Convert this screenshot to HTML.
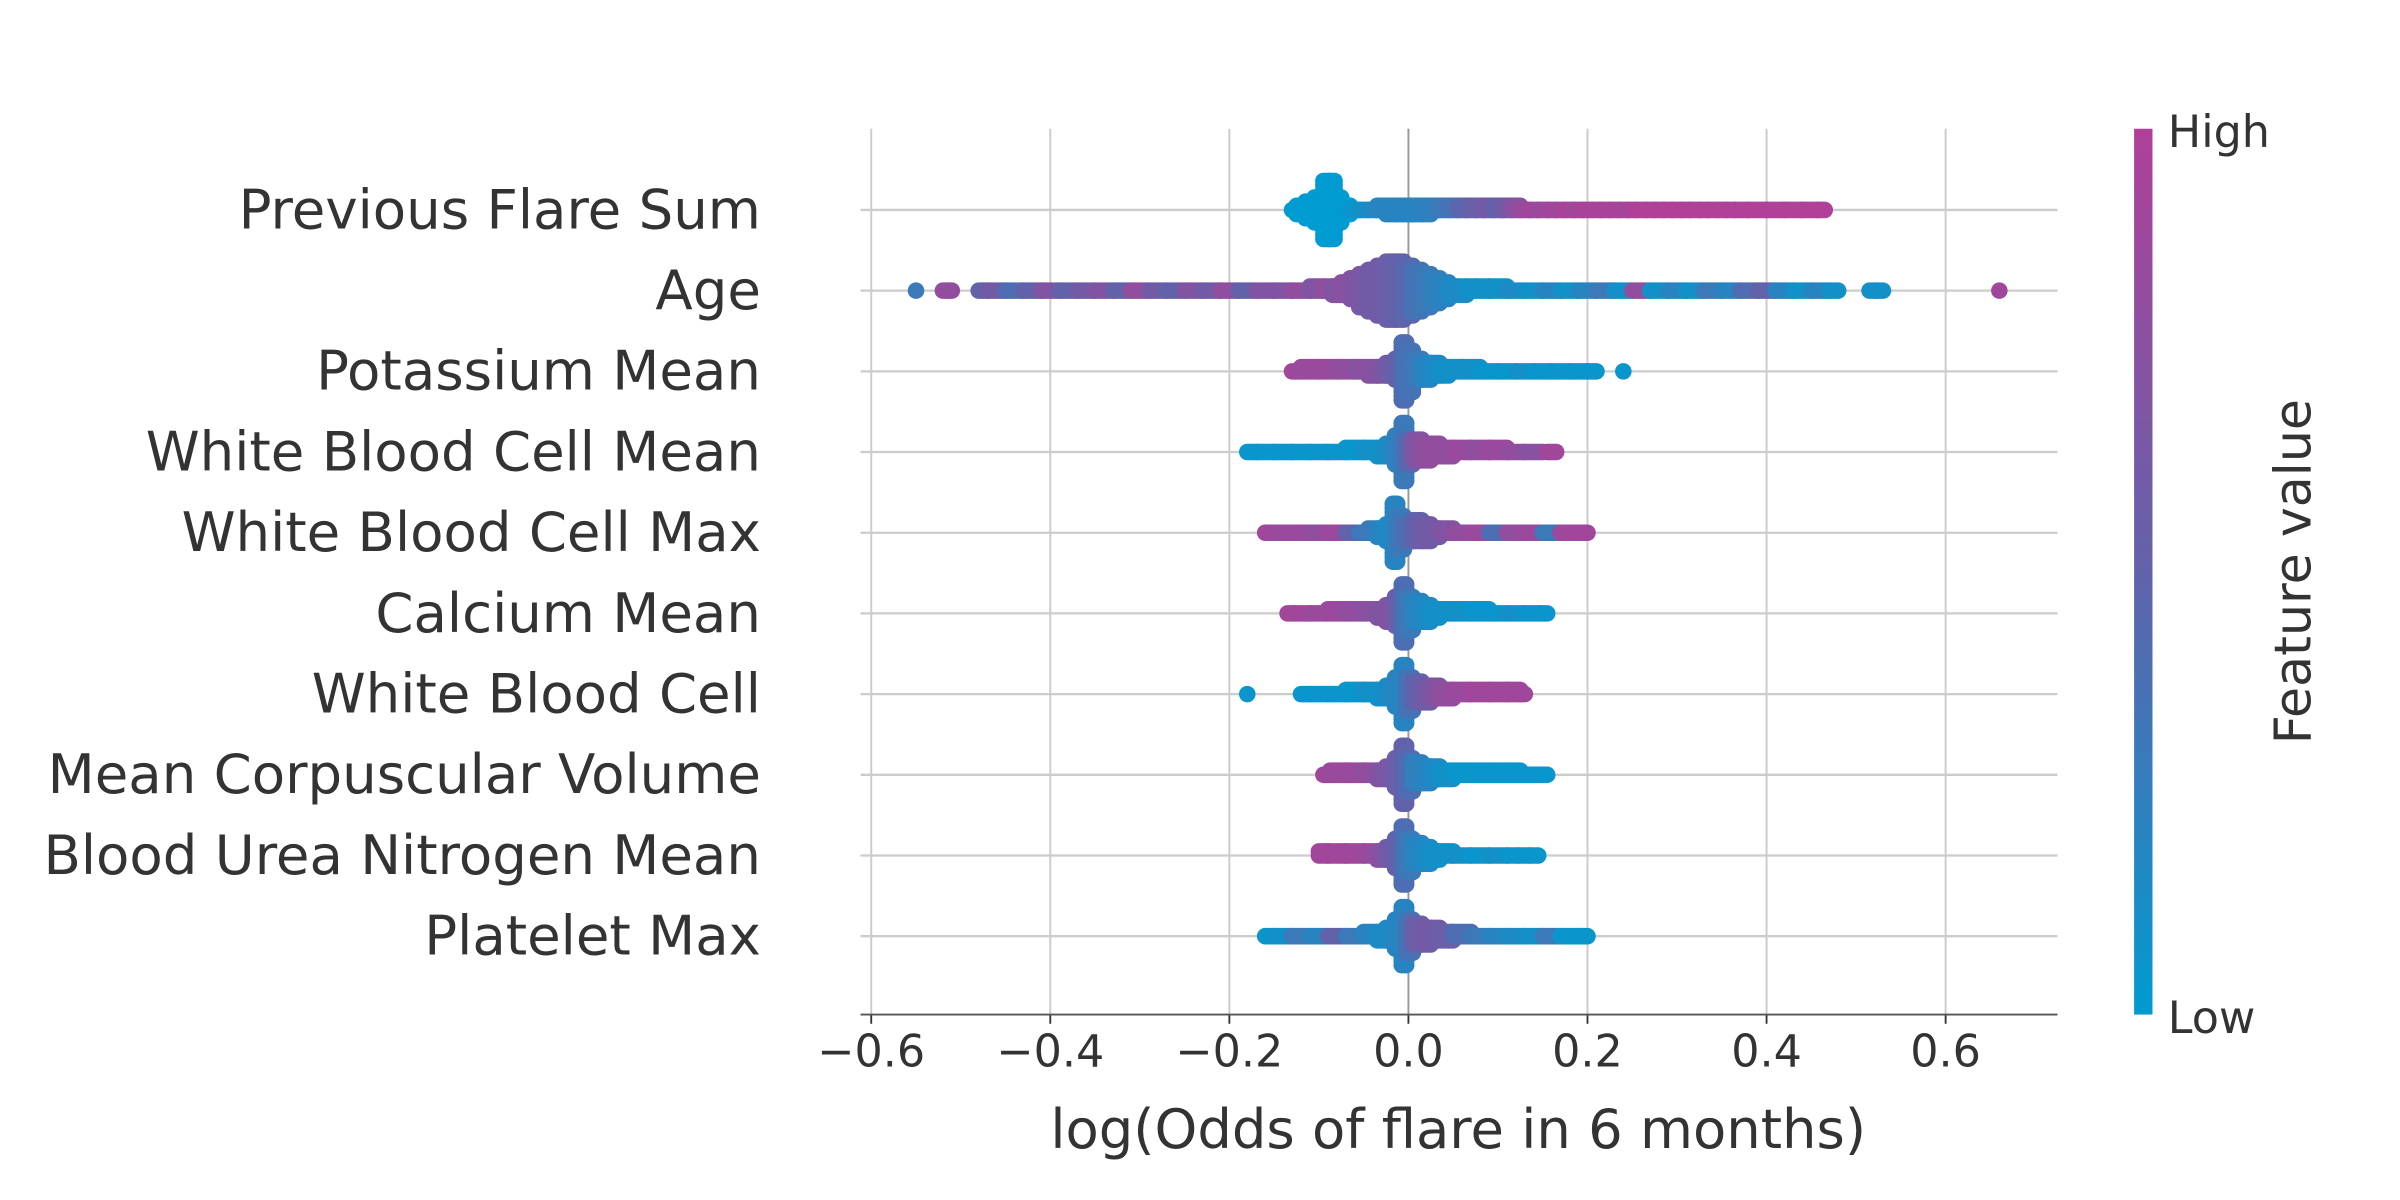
<!DOCTYPE html>
<html><head><meta charset="utf-8"><style>
html,body{margin:0;padding:0;background:#fff;}
svg{display:block;}
text{font-family:"DejaVu Sans","Liberation Sans",sans-serif;fill:#333;}
</style></head><body>
<svg id="chart" width="2400" height="1200" viewBox="0.5 -1 1566 783" preserveAspectRatio="none" xmlns="http://www.w3.org/2000/svg">
<defs><linearGradient id="cbar" x1="0" y1="1" x2="0" y2="0">
<stop offset="0" stop-color="rgb(0,155,208)"/><stop offset="0.5" stop-color="rgb(98,98,170)"/><stop offset="1" stop-color="rgb(176,64,152)"/></linearGradient></defs>
<g id="grid"></g>
<g id="dots"></g>
<g id="axis"></g>
<rect x="1393" y="83" width="12" height="578" fill="url(#cbar)"/>
<text x="1415" y="95" font-size="29">High</text>
<text x="1415" y="673" font-size="29">Low</text>
<text transform="translate(1508,372) rotate(-90)" text-anchor="middle" font-size="33">Feature value</text>
<text x="952" y="748" text-anchor="middle" font-size="35.5">log(Odds of flare in 6 months)</text>
</svg>
<script>
const features = ["Previous Flare Sum","Age","Potassium Mean","White Blood Cell Mean","White Blood Cell Max","Calcium Mean","White Blood Cell","Mean Corpuscular Volume","Blood Urea Nitrogen Mean","Platelet Max"];
const tickValues = [-0.6,-0.4,-0.2,0.0,0.2,0.4,0.6];
const tickLabels = ["\u22120.6","\u22120.4","\u22120.2","0.0","0.2","0.4","0.6"];

const xs0 = [-0.13,-0.12,-0.11,-0.10,-0.09,-0.085,-0.08,-0.07,-0.06,-0.05,-0.04,-0.03,-0.02,-0.01,0,0.01,0.02,0.03,0.04,0.05,0.06,0.07,0.08,0.09,0.10,0.11,0.12,0.13,0.14,0.15,0.16,0.17,0.18,0.19,0.20,0.21,0.22,0.23,0.24,0.25,0.26,0.27,0.28,0.29,0.30,0.31,0.32,0.33,0.34,0.35,0.36,0.37,0.39,0.41,0.43,0.45,0.465];
const ns0 = [1,3,5,7,15,15,7,3,1,1,1,2,3,3,3,3,3,2,2,2,2,2,2,2,2,2,2,1,1,1,1,1,1,1,1,1,1,1,1,1,1,1,1,1,1,1,1,1,1,1,1,1,1,1,1,1,1];
const cs0 = [0,0,0,0,0,0,0,0,0.05,0.1,0.15,0.2,0.2,0.2,0.2,0.2,0.22,0.25,0.3,0.35,0.45,0.5,0.55,0.6,0.5,0.6,0.75,0.85,0.9,0.85,0.9,0.9,0.95,0.9,0.95,0.95,0.95,0.95,0.95,0.95,1,1,1,1,1,1,1,1,1,1,1,1,1,1,1,1,1];

const xs1 = [-0.55,-0.52,-0.51,-0.48,-0.46,-0.44,-0.42,-0.40,-0.38,-0.36,-0.34,-0.32,-0.30,-0.28,-0.26,-0.24,-0.22,-0.20,-0.18,-0.16,-0.14,-0.12,-0.10,-0.09,-0.08,-0.07,-0.06,-0.05,-0.04,-0.03,-0.02,-0.01,0,0.01,0.02,0.03,0.04,0.05,0.06,0.07,0.08,0.10,0.12,0.14,0.16,0.18,0.20,0.22,0.24,0.26,0.28,0.30,0.32,0.34,0.36,0.38,0.40,0.42,0.44,0.46,0.48,0.515,0.53,0.66];
const ns1 = [1,1,1,1,1,1,1,1,1,1,1,1,1,1,1,1,1,1,1,1,1,1,2,2,3,4,6,9,11,13,15,15,13,11,9,7,5,3,3,2,2,2,1,1,1,1,1,1,1,1,1,1,1,1,1,1,1,1,1,1,1,1,1,1];
const cs1 = [0.3,0.8,0.8,0.5,0.6,0.4,0.5,0.7,0.5,0.6,0.7,0.5,0.8,0.6,0.5,0.7,0.6,0.8,0.5,0.7,0.7,0.8,0.7,0.8,0.7,0.75,0.7,0.65,0.6,0.6,0.55,0.5,0.45,0.35,0.3,0.25,0.2,0.15,0.15,0.1,0.1,0.1,0.15,0.1,0.2,0.1,0.2,0.3,0.1,0.8,0.1,0.2,0.1,0.3,0.2,0.4,0.5,0.2,0.1,0.2,0.1,0.1,0.1,0.9];

const xs2 = [-0.13,-0.11,-0.09,-0.07,-0.05,-0.04,-0.03,-0.02,-0.01,-0.005,0.0,0.01,0.02,0.03,0.04,0.05,0.07,0.09,0.11,0.13,0.15,0.17,0.19,0.21,0.24];
const ns2 = [1,2,2,2,2,3,3,4,6,15,11,6,5,4,3,2,2,1,1,1,1,1,1,1,1];
const cs2 = [0.9,0.85,0.85,0.8,0.75,0.75,0.7,0.6,0.5,0.4,0.35,0.3,0.2,0.15,0.1,0.1,0.1,0.05,0.05,0.1,0.05,0.05,0.05,0.05,0.05];

const xs3 = [-0.18,-0.16,-0.14,-0.12,-0.10,-0.08,-0.06,-0.04,-0.03,-0.02,-0.01,-0.005,0.0,0.01,0.02,0.03,0.04,0.06,0.08,0.10,0.12,0.14,0.165];
const ns3 = [1,1,1,1,1,1,2,2,3,4,8,15,7,6,5,4,3,2,2,2,1,1,1];
const cs3 = [0.05,0.05,0.05,0.05,0.05,0.05,0.05,0.1,0.1,0.15,0.25,0.3,0.45,0.7,0.8,0.8,0.8,0.85,0.8,0.85,0.8,0.75,0.9];

const xs4 = [-0.16,-0.14,-0.12,-0.10,-0.08,-0.06,-0.05,-0.04,-0.03,-0.02,-0.015,-0.01,0.0,0.01,0.02,0.03,0.04,0.06,0.08,0.10,0.12,0.14,0.16,0.18,0.20];
const ns4 = [1,1,1,1,1,1,1,2,3,5,15,9,5,6,5,3,2,1,1,1,1,1,1,1,1];
const cs4 = [0.9,0.85,0.85,0.8,0.85,0.5,0.3,0.3,0.2,0.15,0.2,0.3,0.4,0.5,0.6,0.6,0.7,0.8,0.85,0.4,0.8,0.85,0.3,0.9,0.9];

const xs5 = [-0.135,-0.12,-0.10,-0.08,-0.06,-0.04,-0.03,-0.02,-0.01,-0.005,0.0,0.01,0.02,0.03,0.04,0.06,0.08,0.10,0.12,0.14,0.155];
const ns5 = [1,1,1,2,2,2,3,5,8,15,9,6,5,3,2,2,2,1,1,1,1];
const cs5 = [0.9,0.9,0.85,0.85,0.8,0.75,0.7,0.7,0.55,0.4,0.3,0.2,0.15,0.1,0.1,0.1,0.05,0.05,0.1,0.05,0.05];

const xs6 = [-0.18,-0.12,-0.10,-0.08,-0.06,-0.04,-0.03,-0.02,-0.01,-0.005,0.0,0.01,0.02,0.03,0.04,0.06,0.08,0.10,0.12,0.13];
const ns6 = [1,1,1,1,2,2,3,4,8,15,9,6,5,4,3,2,2,2,2,1];
const cs6 = [0.05,0.05,0.05,0.05,0.05,0.1,0.1,0.15,0.2,0.2,0.35,0.5,0.6,0.7,0.8,0.85,0.9,0.9,0.9,0.9];

const xs7 = [-0.095,-0.08,-0.06,-0.04,-0.03,-0.02,-0.01,-0.005,0.0,0.01,0.02,0.03,0.04,0.06,0.08,0.10,0.12,0.13,0.15,0.155];
const ns7 = [1,2,2,2,3,4,8,15,9,6,5,4,3,2,2,2,2,1,1,1];
const cs7 = [0.9,0.85,0.85,0.8,0.7,0.65,0.55,0.5,0.4,0.25,0.2,0.15,0.1,0.05,0.05,0.05,0.05,0.05,0.05,0.05];

const xs8 = [-0.10,-0.08,-0.06,-0.04,-0.03,-0.02,-0.01,-0.005,0.0,0.01,0.02,0.03,0.04,0.06,0.08,0.10,0.12,0.125,0.145];
const ns8 = [2,2,2,2,3,4,8,15,9,6,5,3,2,1,1,1,1,1,1];
const cs8 = [0.9,0.9,0.9,0.85,0.75,0.6,0.5,0.4,0.3,0.2,0.15,0.1,0.1,0.1,0.05,0.1,0.05,0.05,0.05];

const xs9 = [-0.16,-0.14,-0.12,-0.10,-0.08,-0.06,-0.04,-0.03,-0.02,-0.01,-0.005,0.0,0.01,0.02,0.03,0.04,0.06,0.08,0.10,0.12,0.14,0.16,0.18,0.20];
const ns9 = [1,1,1,1,1,1,2,3,4,8,15,9,6,5,4,3,2,1,1,1,1,1,1,1];
const cs9 = [0.05,0.1,0.3,0.2,0.5,0.3,0.2,0.15,0.15,0.2,0.2,0.35,0.55,0.6,0.6,0.55,0.4,0.3,0.2,0.15,0.1,0.3,0.05,0.05];

const allX = [xs0,xs1,xs2,xs3,xs4,xs5,xs6,xs7,xs8,xs9];
const allN = [ns0,ns1,ns2,ns3,ns4,ns5,ns6,ns7,ns8,ns9];
const allC = [cs0,cs1,cs2,cs3,cs4,cs5,cs6,cs7,cs8,cs9];

const NS = "http://www.w3.org/2000/svg";
const X0 = 919.5, XS = 584.2;
function xScale(v){ return X0 + v*XS; }
const ROW0 = 136, ROWH = 52.65;
function yRow(i){ return ROW0 + i*ROWH; }
function colorOf(t){
  const lo=[0,155,208], mid=[98,98,170], hi=[176,64,152];
  let a,b,u; if(t<0.5){a=lo;b=mid;u=t/0.5;} else {a=mid;b=hi;u=(t-0.5)/0.5;}
  return "rgb("+a.map((c,k)=>Math.round(c+(b[k]-c)*u)).join(",")+")";
}
function mk(tag, attrs, parent){
  const e=document.createElementNS(NS,tag);
  for(const k in attrs) e.setAttribute(k,attrs[k]);
  parent.appendChild(e); return e;
}
const grid=document.getElementById("grid"), dots=document.getElementById("dots"), axis=document.getElementById("axis"), svg=document.getElementById("chart");

tickValues.forEach((v,i)=>{
  const g=mk("line",{x1:xScale(v),x2:xScale(v),y1:83,y2:661,stroke:"#cccccc","stroke-width":1.3},grid);
  
  
  const t=mk("line",{x1:xScale(v),x2:xScale(v),y1:661,y2:667,stroke:"#333","stroke-width":1.2},axis);
  
  
  const l=mk("text",{x:xScale(v),y:695,"text-anchor":"middle","font-size":29},axis);
  l.textContent=tickLabels[i];
  
  
});
const spine=mk("line",{x1:562,x2:1343,y1:661,y2:661,stroke:"#555","stroke-width":1.2},axis);



features.forEach((f,i)=>{
  const y=yRow(i);
  const hl=mk("line",{x1:562,x2:1343,y1:y,y2:y,stroke:"#cccccc","stroke-width":1.5},grid);
  
  
  const lab=mk("text",{x:497,y:y+12,"text-anchor":"end","font-size":35.6},svg);
  lab.textContent=f;
  
  
});
const zl=mk("line",{x1:X0,x2:X0,y1:83,y2:661,stroke:"#999","stroke-width":1.2},grid);



const SP=2.7, R=5.4;
allX.forEach((xs,i)=>{
  const ns=allN[i], cs=allC[i], y=yRow(i);
  xs.forEach((v,j)=>{
    let gl = j>0 ? v-xs[j-1] : 1, gr = j<xs.length-1 ? xs[j+1]-v : 1;
    const hl = gl<=0.025 ? Math.min(0.01, gl/2) : 0;
    const hr = gr<=0.025 ? Math.min(0.01, gr/2) : 0;
    for(let k=0;k<ns[j];k++){
      const m=Math.ceil(k/2)*(k%2?-1:1);
      const c=mk("line",{x1:xScale(v-hl),x2:xScale(v+hr)+0.01,y1:y+m*SP,y2:y+m*SP,stroke:colorOf(cs[j]),"stroke-width":2*R,"stroke-linecap":"round"},dots);
      
      
    }
  });
});
</script>
</body></html>
